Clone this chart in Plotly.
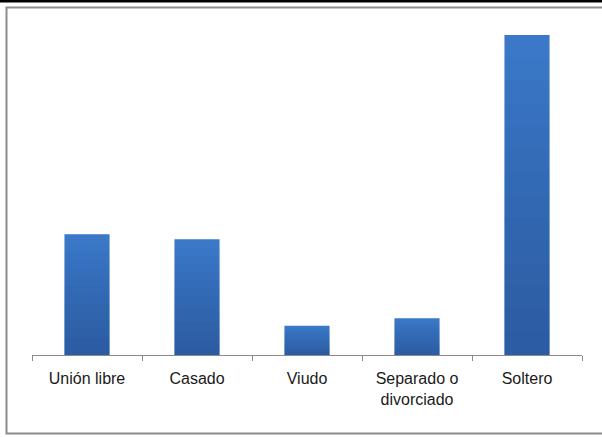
import plotly.graph_objects as go

categories = ["Unión libre", "Casado", "Viudo", "Separado o<br>divorciado", "Soltero"]
values = [19.4, 18.6, 4.7, 5.9, 51.4]

W, H = 602, 437
L, R, T, B = 32, 582, 15, 355  # plot area in pixels

def fx(px):
    return (px - L) / (R - L)

def fy(py):
    return (B - py) / (B - T)

fig = go.Figure()
# base bar (top colour of gradient)
fig.add_trace(go.Bar(x=categories, y=values, width=0.41,
                     marker=dict(color="#3d7ccc", line=dict(width=0)),
                     hoverinfo="skip", showlegend=False))
# overlay layers to darken toward the bottom (gradient effect)
n = 14
for i in range(1, n + 1):
    frac = i / n
    fig.add_trace(go.Bar(x=categories, y=[v * frac for v in values], width=0.41,
                         marker=dict(color="rgba(25,55,100,0.035)", line=dict(width=0)),
                         hoverinfo="skip", showlegend=False))

fig.update_layout(
    width=W, height=H,
    margin=dict(l=L, r=W - R, t=T, b=H - B, pad=0),
    paper_bgcolor="white", plot_bgcolor="white",
    barmode="overlay",
    font=dict(family="Liberation Sans, Arial, sans-serif", size=16, color="#1a1a1a"),
    xaxis=dict(showline=True, linecolor="#8a8a8a", linewidth=1,
               ticks="outside", tickson="boundaries", ticklen=5, tickcolor="#8a8a8a",
               tickwidth=1, showgrid=False, zeroline=False, fixedrange=True,
               ticklabelstandoff=9),
    yaxis=dict(visible=False, range=[0, 54.6], showgrid=False, zeroline=False,
               fixedrange=True),
    shapes=[
        dict(type="rect", xref="paper", yref="paper",
             x0=fx(0), x1=fx(W + 5), y0=fy(0), y1=fy(2.5),
             fillcolor="black", line=dict(width=0), layer="above"),
        dict(type="rect", xref="paper", yref="paper",
             x0=fx(6.5), x1=fx(W + 10), y0=fy(433.5), y1=fy(7.5),
             line=dict(color="#8c8c8c", width=2), fillcolor="rgba(0,0,0,0)", layer="below"),
    ],
)

fig.write_html("out.html", config={"displayModeBar": False},
               post_script="document.body.style.margin='0';document.body.style.overflow='hidden';")
